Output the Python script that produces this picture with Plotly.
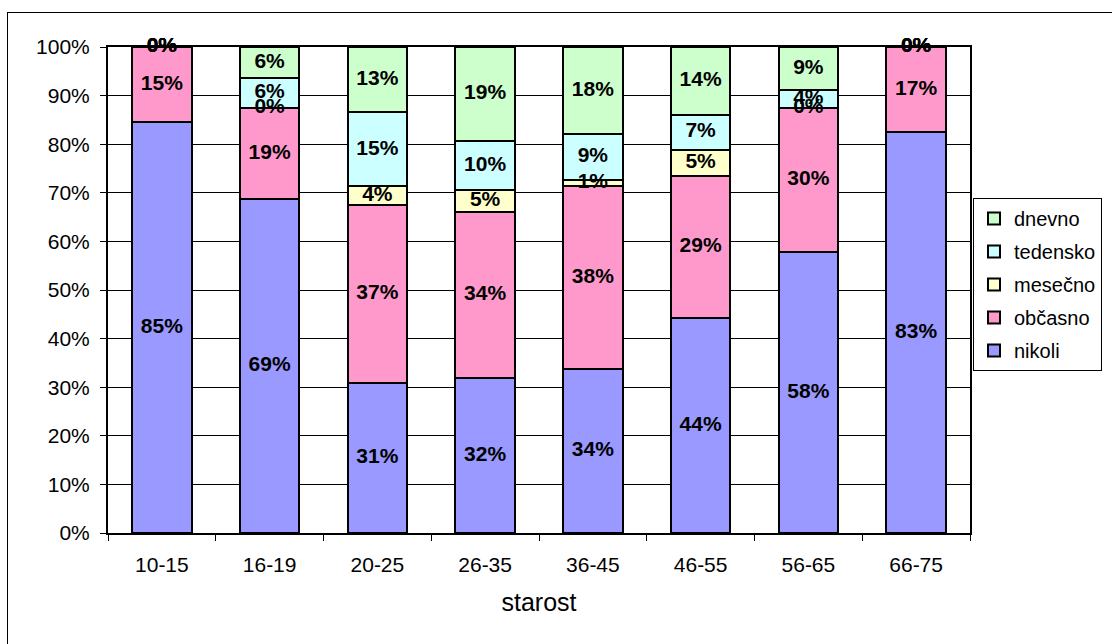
import plotly.graph_objs as go

# age groups and shares (%)
groups = ['10-15', '16-19', '20-25', '26-35', '36-45', '46-55', '56-65', '66-75']
nikoli = [84.6, 68.7, 30.9, 31.9, 33.7, 44.3, 57.9, 82.6]
obcasno = [15.4, 18.8, 36.6, 34.1, 37.8, 29.2, 29.6, 17.4]
mesecno = [0, 0, 3.8, 4.6, 1.2, 5.4, 0, 0]
tedensko = [0, 6.2, 15.3, 10.1, 9.4, 7.2, 3.6, 0]
dnevno = [0, 6.3, 13.4, 19.3, 17.9, 13.9, 8.9, 0]

series = [('nikoli', nikoli, '#9999FF'),
          ('občasno', obcasno, '#FF99CC'),
          ('mesečno', mesecno, '#FFFFCC'),
          ('tedensko', tedensko, '#CCFFFF'),
          ('dnevno', dnevno, '#CCFFCC')]

W, H = 1112, 644
L, R, T, B = 108, 142, 47, 111
pw, ph = W - L - R, H - T - B

fig = go.Figure()
base = [0] * len(groups)
lab_x, lab_y, lab_t = [], [], []
for k, (name, vals, col) in enumerate(series):
    fig.add_trace(go.Bar(name=name, x=groups, y=vals, marker_color=col, legendgroup=name,
                         legendrank=len(series) - k,
                         marker_line=dict(color='black', width=2)))
    for i, v in enumerate(vals):
        lab_x.append(groups[i])
        lab_y.append(base[i] + v / 2)
        lab_t.append('%d%%' % round(v))
        base[i] += v

fig.add_trace(go.Scatter(x=lab_x, y=lab_y, text=lab_t, mode='text', showlegend=False,
                         cliponaxis=False, hoverinfo='skip',
                         textfont=dict(family='Liberation Sans', size=21, color='black',
                                       weight='bold')))

# outer chart frame (only its left and top edges fall inside the picture)
fx0, fy0 = 7, 12
frame = [dict(type='line', xref='paper', yref='paper',
              x0=(fx0 + 0.5 - L) / pw, x1=(fx0 + 0.5 - L) / pw,
              y0=-B / ph, y1=1 + (T - fy0 - 0.5) / ph,
              line=dict(color='black', width=1)),
         dict(type='line', xref='paper', yref='paper',
              x0=(fx0 - L) / pw, x1=(W - L) / pw,
              y0=1 + (T - fy0 - 0.5) / ph, y1=1 + (T - fy0 - 0.5) / ph,
              line=dict(color='black', width=1))]

fig.update_layout(
    width=W, height=H, barmode='stack', bargap=0.45,
    margin=dict(l=L, r=R, t=T, b=B, autoexpand=False),
    paper_bgcolor='white', plot_bgcolor='white',
    font=dict(family='Liberation Sans', size=21, color='black'),
    legend=dict(x=(973 - L) / pw, y=(533 - 198) / ph, xanchor='left', yanchor='top',
                traceorder='grouped', tracegroupgap=4, itemwidth=30,
                bordercolor='black', borderwidth=1, bgcolor='white', font=dict(size=20)),
    xaxis=dict(title=dict(text='starost', standoff=18), showline=True, linecolor='black',
               linewidth=2, mirror=True, ticks='outside', tickson='boundaries',
               ticklen=6, tickcolor='black', ticklabelstandoff=12, showgrid=False),
    yaxis=dict(range=[0, 100], dtick=10, ticksuffix='%', showline=True, linecolor='black',
               linewidth=2, mirror=True, ticks='outside', ticklen=6, tickcolor='black',
               ticklabelstandoff=6,
               showgrid=True, gridcolor='black', gridwidth=1, zeroline=False),
    shapes=frame,
)

fig.write_html("out.html", config={'displayModeBar': False},
               post_script="document.body.style.margin='0px';")
